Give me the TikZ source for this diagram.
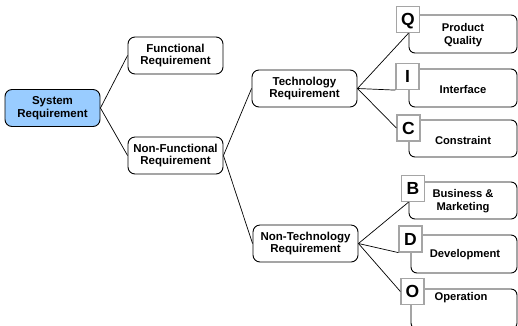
\documentclass[tikz,border=0pt]{standalone}
\usepackage{fontspec}
\setmainfont{Liberation Sans}
\definecolor{sysblue}{RGB}{153,204,255}
\definecolor{lettergray}{RGB}{165,165,165}
\begin{document}
\begin{tikzpicture}[x=1pt,y=-1pt,
  mainbox/.style={draw=black, line width=0.9pt, rounded corners=7pt, fill=white,
    minimum width=95pt, minimum height=37pt, inner sep=0pt, align=center,
    font=\bfseries\fontsize{11.5}{12.5}\selectfont},
  leafbox/.style={draw=black, line width=0.9pt, rounded corners=6pt, inner sep=0pt,
    minimum width=108pt},
  letterbox/.style={draw=lettergray, line width=1.2pt, fill=white,
    minimum width=23pt, minimum height=26pt, inner sep=0pt,
    text height=12.5pt, text depth=0pt,
    font=\bfseries\fontsize{17.5}{17.5}\selectfont},
  leaftext/.style={align=center, inner sep=0pt,
    font=\bfseries\fontsize{11.2}{13}\selectfont},
  link/.style={draw=black, line width=0.7pt}]
\clip (0,0) rectangle (518,325);

% main hierarchy
\node[mainbox, fill=sysblue] (sys) at (52.5,108) {System\\Requirement};
\node[mainbox] (func) at (175.5,55.5) {Functional\\Requirement};
\node[mainbox] (nonfunc) at (175.5,155.5) {Non-Functional\\Requirement};
\node[mainbox, minimum width=105pt] (tech) at (304.5,88.5) {Technology\\Requirement};
\node[mainbox, minimum width=105pt] (nontech) at (305.5,243.5) {Non-Technology\\Requirement};

% leaf frames
\node[leafbox, minimum height=38pt] (qbox) at (463,34) {};
\node[leafbox, minimum height=38pt] (ibox) at (463,88) {};
\node[leafbox, minimum height=37pt] (cbox) at (463,138.5) {};
\node[leafbox, minimum height=37pt] (bbox) at (463,200.5) {};
\node[leafbox, minimum height=38pt, minimum width=106pt] (dbox) at (464,254) {};
\node[leafbox, minimum height=40pt, minimum width=106pt] (obox) at (464,309) {};

% letter tags
\node[letterbox] (q) at (408,19.5) {Q};
\node[letterbox] (i) at (407.5,76.5) {I};
\node[letterbox] (c) at (408.5,128) {C};
\node[letterbox] (b) at (413,188.5) {B};
\node[letterbox] (d) at (410.5,239) {D};
\node[letterbox] (o) at (412.5,291.5) {O};

% leaf labels
\node[leaftext] (qt) at (463,35.5) {Product\\Quality};
\node[leaftext] (it) at (463,89) {Interface};
\node[leaftext] (ct) at (463,140) {Constraint};
\node[leaftext] (bt) at (463,201.5) {Business \&\\Marketing};
\node[leaftext] (dt) at (465,255) {Development};
\node[leaftext] (ot) at (461,298) {Operation};

% connectors
\draw[link] (sys.east) -- (func.west);
\draw[link] (sys.east) -- (nonfunc.west);
\draw[link] (nonfunc.east) -- (tech.west);
\draw[link] (nonfunc.east) -- (nontech.west);
\draw[link] (tech.east) -- (qbox.west |- q.south);
\draw[link] (tech.east) -- (i.south west);
\draw[link] (tech.east) -- (c.west);
\draw[link] (nontech.east) -- (bbox.west |- b.south);
\draw[link] (nontech.east) -- (d.south west);
\draw[link] (nontech.east) -- (o.west);
\end{tikzpicture}
\end{document}
